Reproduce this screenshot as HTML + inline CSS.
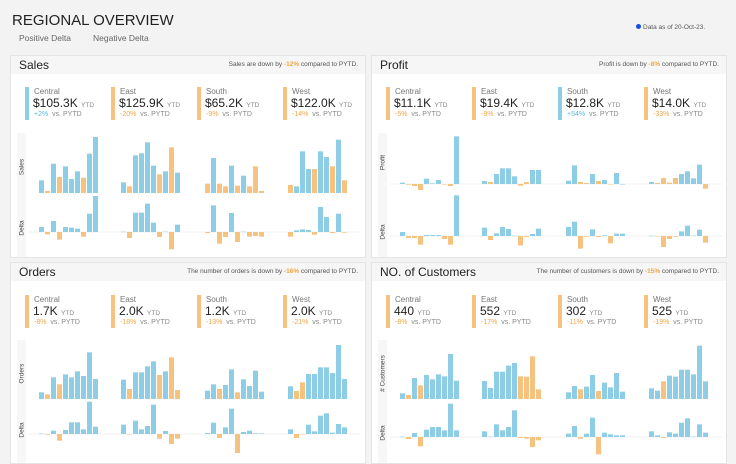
<!DOCTYPE html>
<html><head><meta charset="utf-8">
<style>
body{margin:0;width:736px;height:454px;overflow:hidden;background:#f3f3f3;font-family:"Liberation Sans",sans-serif;position:relative}
.abs{position:absolute}
.panel{position:absolute;background:#fff;border:1px solid #e4e4e4;overflow:hidden}
.hdr{position:absolute;left:0;top:0;right:0;height:18px;background:#f6f6f6}
.ttl{position:absolute;left:8px;top:2px;font-size:12px;color:#222}
.sub{position:absolute;right:7px;top:5px;font-size:6.5px;color:#555}
.o{color:#f0a548;font-weight:bold}
.kpi{position:absolute;width:80px;height:34px}
.strip{position:absolute;left:0;top:0;width:4px;height:33px}
.rg{position:absolute;left:9px;top:0;font-size:8px;color:#777}
.val{position:absolute;left:8px;top:9px;font-size:12px;color:#222;white-space:nowrap}
.val small{font-size:6.5px;color:#888}
.dl{position:absolute;left:9px;top:24px;font-size:7px;color:#888;white-space:nowrap}
svg{position:absolute;left:0;top:0}
</style></head><body>
<div class="abs" style="left:12px;top:12px;font-size:15px;color:#222">REGIONAL OVERVIEW</div>
<div class="abs" style="left:19px;top:33px;font-size:8.5px;color:#666">Positive Delta</div>
<div class="abs" style="left:93px;top:33px;font-size:8.5px;color:#666">Negative Delta</div>
<div class="abs" style="left:636px;top:24px;font-size:6.5px;color:#555"><span style="display:inline-block;width:5px;height:5px;border-radius:50%;background:#1a4fe0;margin-right:2px"></span>Data as of 20-Oct-23.</div>
<div id="root"></div>
<script>
const regions=["Central","East","South","West"];
const panelTitles=["Sales","Profit","Orders","NO. of Customers"];
const axisLabels=["Sales","Profit","Orders","# Customers"];
const kpiValues=[["$105.3K","$125.9K","$65.2K","$122.0K"],["$11.1K","$19.4K","$12.8K","$14.0K"],["1.7K","2.0K","1.2K","2.0K"],["440","552","302","525"]];
const kpiDeltas=[[2,-20,-9,-14],[-5,-9,54,-33],[-8,-18,-13,-21],[-8,-17,-11,-19]];
const totalDeltas=[-12,-8,-16,-15];
const salesValues=[[38,6,88,48,80,42,65,46,118,168],[32,20,113,119,152,82,56,65,137,61],[28,105,28,20,82,22,52,20,80,6],[24,20,125,72,72,125,108,80,160,38]];
const salesDeltas=[[15,-7,33,-23,15,13,10,-14,55,108],[1,-18,58,58,85,28,-15,1,-52,22],[-3,80,-35,-15,57,-30,1,-14,-12,-14],[-14,5,8,6,-8,75,45,-3,55,-2]];
const profitValues=[[4,-2,-6,-18,16,2,12,0,-6,143],[9,6,30,47,47,23,-5,6,42,42],[10,56,6,3,30,9,12,0,33,0],[6,3,18,4,18,30,38,17,58,-14]];
const profitDeltas=[[12,-6,-6,-26,3,3,3,-9,-26,122],[25,-12,8,27,21,1,-28,-3,6,22],[27,43,-38,-2,20,-3,2,-22,7,7],[1,-1,-33,-9,-2,14,31,1,19,-20]];
const ordersValues=[[20,14,65,44,74,65,83,69,140,60],[58,30,80,80,98,113,72,83,125,27],[25,44,30,42,89,20,59,39,85,22],[38,24,50,75,75,95,95,78,162,60]];
const ordersDeltas=[[1,-2,10,-20,12,35,35,14,97,22],[28,-1,40,14,24,88,-14,9,-30,-14],[3,34,-12,20,76,-57,6,10,2,2],[14,-12,-1,28,8,55,62,4,30,20]];
const custValues=[[17,12,63,41,72,59,74,68,135,55],[54,33,82,82,100,108,68,67,128,29],[20,39,29,37,72,24,49,35,78,22],[32,25,53,70,67,88,88,74,160,53]];
const custDeltas=[[1,-6,12,-28,22,30,30,20,100,20],[17,1,38,20,30,80,-3,-5,-30,-10],[10,33,-5,10,58,-52,13,8,5,5],[17,5,-3,14,10,43,56,1,38,13]];
const allValues=[salesValues,profitValues,ordersValues,custValues];
const allDeltas=[salesDeltas,profitDeltas,ordersDeltas,custDeltas];
const BLUE="#8ecde6",ORANGE="#f5c27f";
const panels=[{x:10,y:55,w:354,h:201,tb:137,db:176},{x:371,y:55,w:354,h:201,tb:128,db:180},{x:10,y:262,w:354,h:200,tb:136,db:171},{x:371,y:262,w:354,h:200,tb:136,db:174}];
const regionX=[28,110,194,277],kpiX=[14,100,186,272];
const root=document.getElementById('root');
const NS="http://www.w3.org/2000/svg";
function yScale(base,v){return base-v/3;}
panels.forEach((p,pi)=>{
  const el=document.createElement('div');el.className='panel';
  
  
  el.style.cssText=`left:${p.x}px;top:${p.y}px;width:${p.w}px;height:${p.h}px`;
  const td=totalDeltas[pi];
  const subTxt=pi<2?`${panelTitles[pi]} ${pi==0?'are':'is'} down by <span class="o">${td}%</span> compared to PYTD.`:`The number of ${pi==2?'orders':'customers'} is down by <span class="o">${td}%</span> compared to PYTD.`;
  el.innerHTML=`<div class="hdr"><div class="ttl">${panelTitles[pi]}</div><div class="sub">${subTxt}</div></div>`;
  regions.forEach((r,ri)=>{
    const d=kpiDeltas[pi][ri],pos=d>0;
    const k=document.createElement('div');k.className='kpi';
    
    
    k.style.left=kpiX[ri]+'px';k.style.top=(pi<2?31:32)+'px';
    k.innerHTML=`<div class="strip" style="background:${pos?BLUE:ORANGE}"></div><div class="rg">${r}</div><div class="val">${kpiValues[pi][ri]} <small>YTD</small></div><div class="dl"><span style="color:${pos?'#5bbbe0':'#f0a548'}">${pos?'+':''}${d}%</span>&nbsp; vs. PYTD</div>`;
    el.appendChild(k);
  });
  const svg=document.createElementNS(NS,'svg');
  svg.setAttribute('width',p.w);svg.setAttribute('height',p.h);
  
  
  let s=`<rect x="6" y="77" width="9" height="${p.h-77}" fill="#f7f7f7"/>`;
  const midT=(77+p.tb)/2,midD=p.db;
  s+=`<text transform="translate(12.5,${midT+4}) rotate(-90)" font-size="6.5" fill="#444" text-anchor="middle" font-family="Liberation Sans">${axisLabels[pi]}</text>`;
  s+=`<text transform="translate(12.5,${midD-4}) rotate(-90)" font-size="6.5" fill="#444" text-anchor="middle" font-family="Liberation Sans">Delta</text>`;
  s+=`<line x1="18" x2="${p.w-4}" y1="${p.db}" y2="${p.db}" stroke="#eee" stroke-width="0.7"/>`;
  if(pi==1) s+=`<line x1="18" x2="${p.w-4}" y1="${p.tb}" y2="${p.tb}" stroke="#eee" stroke-width="0.7"/>`;
  svg.innerHTML=s;
  regions.forEach((r,ri)=>{
    const vals=allValues[pi][ri],dels=allDeltas[pi][ri];
    vals.forEach((v,i)=>{
      const x=regionX[ri]+i*6,col=dels[i]>0?BLUE:ORANGE;
      const y0=yScale(p.tb,Math.max(v,0)),y1=yScale(p.tb,Math.min(v,0));
      const b=document.createElementNS(NS,'rect');
      b.setAttribute('x',x);b.setAttribute('y',y0);b.setAttribute('width',5);b.setAttribute('height',Math.max(y1-y0,0.5));b.setAttribute('fill',col);
      
      
      svg.appendChild(b);
      const dv=dels[i];
      const d0=yScale(p.db,Math.max(dv,0)),d1=yScale(p.db,Math.min(dv,0));
      const db=document.createElementNS(NS,'rect');
      db.setAttribute('x',x);db.setAttribute('y',d0);db.setAttribute('width',5);db.setAttribute('height',Math.max(d1-d0,0.5));db.setAttribute('fill',col);
      
      
      svg.appendChild(db);
    });
  });
  el.appendChild(svg);
  root.appendChild(el);
});
</script>
</body></html>
